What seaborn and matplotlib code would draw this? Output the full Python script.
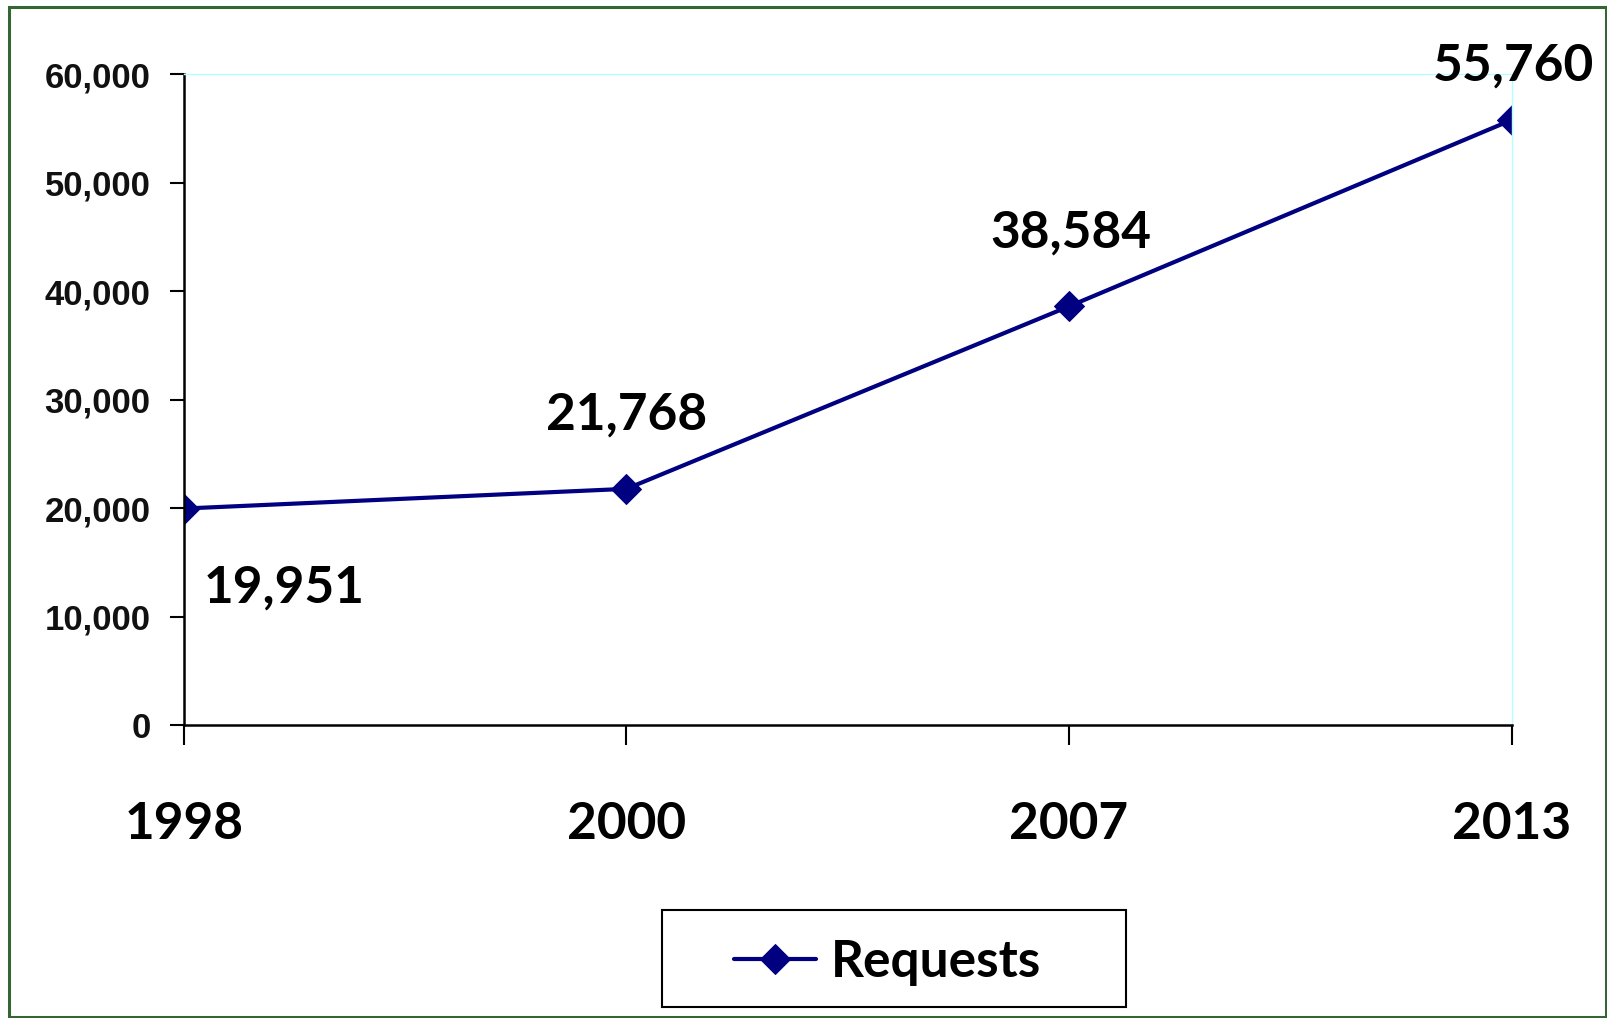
import matplotlib
matplotlib.use("Agg")
import matplotlib.pyplot as plt
from matplotlib.patches import Rectangle
import seaborn as sns
import pandas as pd

years = ["1998", "2000", "2007", "2013"]
requests = [19951, 21768, 38584, 55760]
value_labels = ["19,951", "21,768", "38,584", "55,760"]
y_ticks = [0, 10000, 20000, 30000, 40000, 50000, 60000]
y_tick_labels = ["0", "10,000", "20,000", "30,000", "40,000", "50,000", "60,000"]
series_name = "Requests"

sns.set_style("white")
plt.rcParams["font.family"] = ["Lato", "DejaVu Sans"]
plt.rcParams["text.color"] = "black"

df = pd.DataFrame({"Year": years, series_name: requests, "Series": series_name})

fig = plt.figure(figsize=(16.08, 10.18), dpi=100)
ax = fig.add_axes([0.1144, 0.2878, 0.8256, 0.6395])

navy = "#000080"
sns.lineplot(data=df, x="Year", y=series_name, hue="Series", palette=[navy],
             marker="D", markersize=15, linewidth=3.0, markeredgecolor=navy,
             ax=ax, legend=True, sort=False)

ax.set_xlim(0, 3)
ax.set_ylim(0, 60000)
ax.set_yticks(y_ticks)
ax.set_yticklabels(y_tick_labels, family=["Liberation Sans", "DejaVu Sans"],
                   fontweight="bold", fontsize=25, color="#111111")
ax.set_xticks(range(len(years)))
ax.set_xticklabels(years, fontweight="bold", fontsize=37, color="black")
ax.set_xlabel("")
ax.set_ylabel("")

ax.tick_params(axis="y", direction="out", length=10, width=1.5, color="black", pad=14, left=True)
ax.tick_params(axis="x", direction="out", length=14.5, width=1.5, color="black", pad=40.5, bottom=True)

for side in ["left", "bottom"]:
    ax.spines[side].set_color("black")
    ax.spines[side].set_linewidth(1.8)
for side in ["top", "right"]:
    ax.spines[side].set_color("#B3FFFF")
    ax.spines[side].set_linewidth(1.0)
    ax.spines[side].set_visible(True)

offsets = [(72, -57), (0, 53), (1, 53), (1, 39)]
for i, (val, lab) in enumerate(zip(requests, value_labels)):
    ax.annotate(lab, xy=(i, val), xytext=offsets[i], textcoords="offset points",
                ha="center", va="center", fontsize=37, fontweight="bold",
                color="black", annotation_clip=False)

# legend
handles, labels = ax.get_legend_handles_labels()
ax.legend_.remove()
leg = fig.legend(handles, labels, loc="center", bbox_to_anchor=(0.552, 0.055),
                 frameon=False, handlelength=1.6, handletextpad=0.3,
                 prop={"weight": "bold", "size": 37}, labelcolor="black")

fig.patches.append(Rectangle((0.4117, 0.0108), 0.2886, 0.0953, transform=fig.transFigure,
                             fill=False, edgecolor="black", linewidth=1.5))
fig.patches.append(Rectangle((0.0056, 0.001), 0.9932, 0.992, transform=fig.transFigure,
                             fill=False, edgecolor="#336633", linewidth=2.2))

fig.savefig("out.png", dpi=100)
